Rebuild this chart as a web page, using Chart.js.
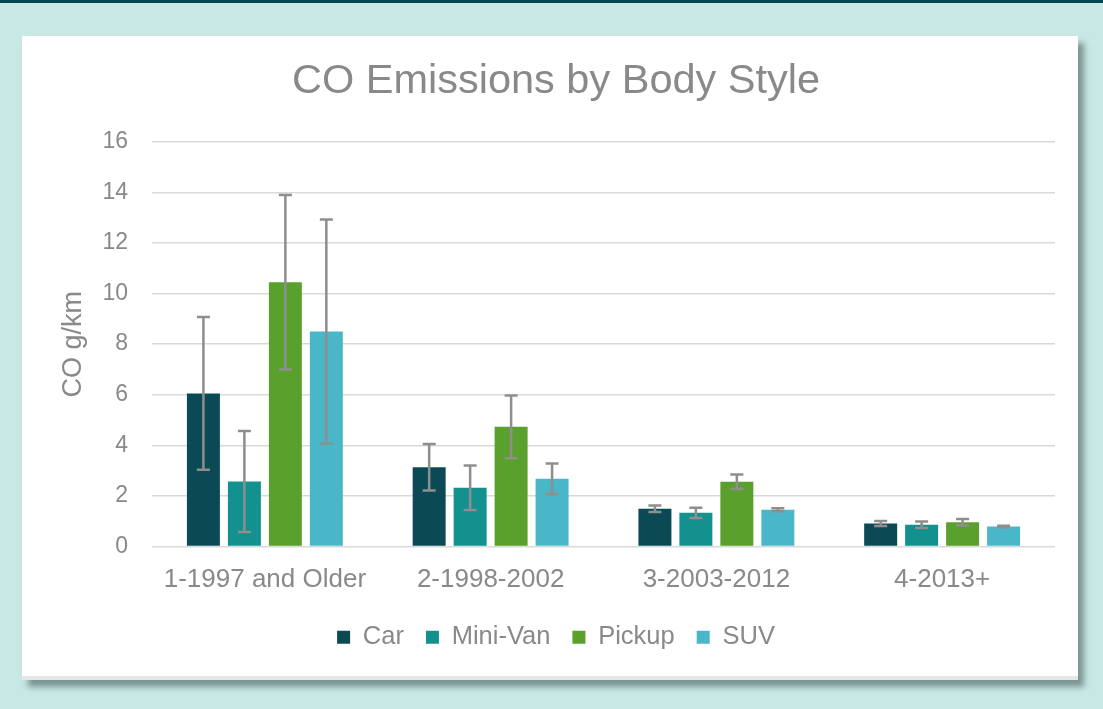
<!DOCTYPE html>
<html><head><meta charset="utf-8">
<script src="https://cdn.jsdelivr.net/npm/chart.js@4"></script>
<style>
html,body{margin:0;padding:0;width:1103px;height:709px;overflow:hidden;background:#c8e8e6;}
#topbar{position:absolute;left:0;top:0;width:1103px;height:3px;background:#00474f;}
#card{position:absolute;left:22px;top:36px;width:1056px;height:644px;background:#fff;box-shadow:6px 7px 6px rgba(60,80,80,0.55);}
#strip{position:absolute;left:0;bottom:0;width:100%;height:4px;background:#e6e6e6;}
canvas{position:absolute;left:0;top:0;}
</style></head>
<body>
<div id="topbar"></div>
<div id="card"><div id="strip"></div><canvas id="c" width="1056" height="640"></canvas></div>
<script>
const categories = ["1-1997 and Older", "2-1998-2002", "3-2003-2012", "4-2013+"];
const seriesNames = ["Car", "Mini-Van", "Pickup", "SUV"];
const carValues = [6.05, 3.13, 1.49, 0.91];
const miniVanValues = [2.57, 2.32, 1.33, 0.86];
const pickupValues = [10.45, 4.73, 2.56, 0.96];
const suvValues = [8.5, 2.68, 1.45, 0.79];
const carErrors = [3.02, 0.92, 0.13, 0.1];
const miniVanErrors = [2.0, 0.88, 0.2, 0.13];
const pickupErrors = [3.45, 1.24, 0.29, 0.13];
const suvErrors = [4.43, 0.6, 0.06, 0.03];
const yTicks = [0, 2, 4, 6, 8, 10, 12, 14, 16];

const colors = ["#0b4a55", "#12918e", "#5aa02c", "#4ab7c8"];
const allValues = [carValues, miniVanValues, pickupValues, suvValues];
const allErrors = [carErrors, miniVanErrors, pickupErrors, suvErrors];
const FONT = 'Liberation Sans, Arial, sans-serif';
const GREY = '#898989';

const errorBarPlugin = {
  id: 'errorBars',
  afterDatasetsDraw(chart) {
    const ctx = chart.ctx;
    const y = chart.scales.y;
    ctx.save();
    ctx.strokeStyle = '#8e8e8e';
    ctx.lineWidth = 2.5;
    chart.data.datasets.forEach((ds, di) => {
      const meta = chart.getDatasetMeta(di);
      meta.data.forEach((el, i) => {
        const v = ds.data[i], e = ds.errors[i];
        const yt = y.getPixelForValue(v + e), yb = y.getPixelForValue(v - e);
        const x = el.x, cw = 6.5;
        ctx.beginPath();
        ctx.moveTo(x, yt); ctx.lineTo(x, yb);
        ctx.moveTo(x - cw, yt); ctx.lineTo(x + cw, yt);
        ctx.moveTo(x - cw, yb); ctx.lineTo(x + cw, yb);
        ctx.stroke();
      });
    });
    ctx.restore();
  }
};

new Chart(document.getElementById('c'), {
  type: 'bar',
  data: {
    labels: categories,
    datasets: seriesNames.map((n, i) => ({
      label: n,
      data: allValues[i],
      errors: allErrors[i],
      backgroundColor: colors[i],
      borderWidth: 0,
      categoryPercentage: 0.726,
      barPercentage: 0.805
    }))
  },
  options: {
    responsive: false,
    animation: false,
    layout: { padding: { left: 35, right: 23, top: 0, bottom: 16 } },
    plugins: {
      title: {
        display: true,
        text: 'CO Emissions by Body Style',
        color: GREY,
        font: { family: FONT, size: 41.5, weight: 'normal' },
        padding: { top: 21, bottom: 35 }
      },
      legend: {
        position: 'bottom',
        labels: {
          color: GREY,
          font: { family: FONT, size: 25.5 },
          boxWidth: 13, boxHeight: 13, padding: 22
        }
      },
      tooltip: { enabled: false }
    },
    scales: {
      x: {
        grid: { display: false },
        border: { display: false },
        ticks: { color: GREY, font: { family: FONT, size: 26 }, padding: 10 },
        afterFit(scale) { scale.height = 56; }
      },
      y: {
        min: 0, max: 16,
        afterBuildTicks(scale) { scale.ticks = yTicks.map(v => ({ value: v })); },
        afterFit(scale) { scale.width = 95; },
        grid: { color: '#d9d9d9', lineWidth: 1.5, drawTicks: false },
        border: { display: false },
        ticks: { color: GREY, font: { family: FONT, size: 23 }, padding: 24 },
        title: { display: true, text: 'CO g/km', color: GREY, font: { family: FONT, size: 27 }, padding: 0 }
      }
    }
  },
  plugins: [errorBarPlugin]
});
</script>
</body></html>
